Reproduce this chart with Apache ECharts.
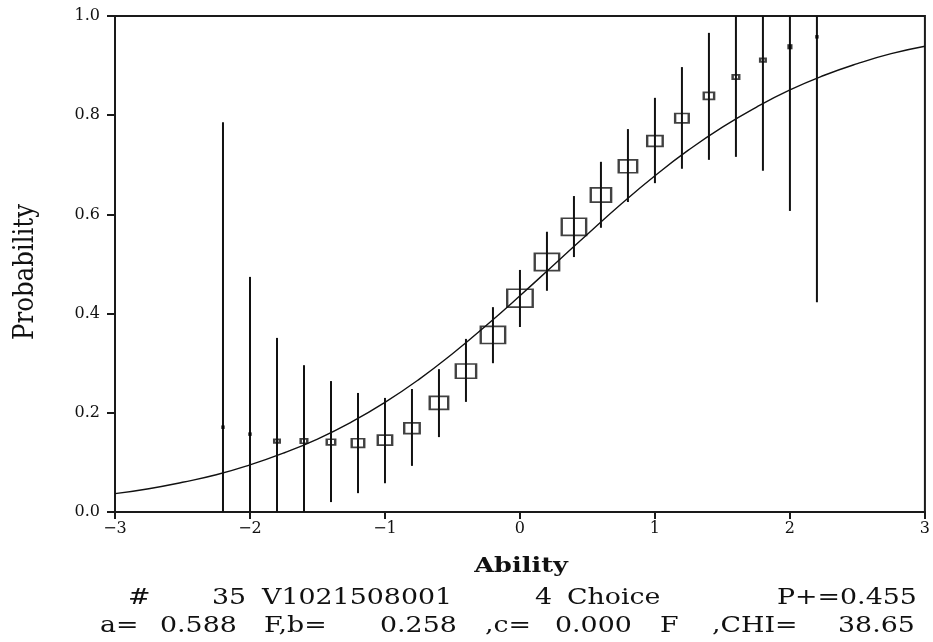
<!DOCTYPE html>
<html><head><meta charset="utf-8">
<script src="https://cdn.jsdelivr.net/npm/echarts@6/dist/echarts.min.js"></script>
<style>html,body{margin:0;padding:0;background:#fff}#c{width:933px;height:642px}</style>
</head><body><div id="c"></div>
<script>
// ---- data ----
const theta = [-2.2,-2.0,-1.8,-1.6,-1.4,-1.2,-1.0,-0.8,-0.6,-0.4,-0.2,0.0,0.2,0.4,0.6,0.8,1.0,1.2,1.4,1.6,1.8,2.0,2.2];
const propCorrect = [0.171,0.157,0.143,0.143,0.141,0.139,0.145,0.169,0.220,0.284,0.357,0.431,0.504,0.575,0.639,0.697,0.748,0.794,0.839,0.877,0.911,0.938,0.958];
const ciLow  = [0,0,0,0,0.020,0.038,0.058,0.093,0.151,0.222,0.300,0.373,0.446,0.514,0.573,0.625,0.663,0.692,0.710,0.716,0.688,0.607,0.423];
const ciHigh = [0.786,0.474,0.351,0.296,0.264,0.240,0.230,0.248,0.288,0.349,0.413,0.488,0.565,0.637,0.706,0.772,0.835,0.897,0.966,1,1,1,1];
const groupWeight = [0.09,0.11,0.26,0.30,0.37,0.52,0.59,0.63,0.74,0.81,0.96,1.00,0.96,0.96,0.81,0.74,0.63,0.56,0.44,0.30,0.26,0.19,0.11];
const curveTheta = [-3,-2.75,-2.5,-2.25,-2,-1.75,-1.5,-1.25,-1,-0.75,-0.5,-0.25,0,0.25,0.5,0.75,1,1.25,1.5,1.75,2,2.25,2.5,2.75,3];
const curveP = [0.037,0.047,0.060,0.075,0.095,0.119,0.147,0.181,0.221,0.267,0.319,0.376,0.436,0.498,0.560,0.621,0.678,0.730,0.776,0.816,0.851,0.880,0.904,0.924,0.939];
const xTicks = [-3,-2,-1,0,1,2,3];
const yTicks = [0,0.2,0.4,0.6,0.8,1.0];
const xTitle = "Ability";
const yTitle = "Probability";
const infoLine1 = ["#", "35", "V1021508001", "4", "Choice", "P+=0.455"];
const infoLine2 = ["a=", "0.588", "F,b=", "0.258", ",c=", "0.000", "F", ",CHI=", "38.65"];

// ---- layout (pixel positions of the words, not data) ----
const line1X = [128, 212, 262, 535, 567, 777];
const line2X = [100, 160, 264, 380, 485, 555, 660, 712, 838];

const chart = echarts.init(document.getElementById('c'), null, {renderer:'canvas'});
const ink = '#111';
const serif = 'DejaVu Serif';

function words(tokens, xs, y) {
  return tokens.map((t, i) => ({
    type: 'text', x: xs[i], y: y, scaleX: 1.22,
    style: { text: t, x: 0, y: 0, align: 'left', verticalAlign: 'middle',
             font: '22px "DejaVu Serif"', fill: ink }
  }));
}

let graphics = [];
graphics.push({
  type: 'text', x: 521, y: 567, scaleX: 1.22,
  style: { text: xTitle, x: 0, y: 0, align: 'center', verticalAlign: 'middle', font: 'bold 21px "DejaVu Serif"', fill: ink }
});
graphics = graphics.concat(words(infoLine1, line1X, 598));
graphics = graphics.concat(words(infoLine2, line2X, 626));
graphics.push({
  type: 'text', x: 26, y: 272, rotation: Math.PI / 2, scaleX: 1.02, scaleY: 1.2,
  style: { text: yTitle, x: 0, y: 0, align: 'center', verticalAlign: 'middle', font: '24px "DejaVu Serif"', fill: ink }
});

const fmtX = v => (v < 0 ? '\u2212' + Math.abs(v) : String(v));

chart.setOption({
  animation: false,
  backgroundColor: '#fff',
  grid: { left: 115, right: 5, top: 16, bottom: 130, show: true, borderColor: '#1a1a1a', borderWidth: 2, backgroundColor: 'transparent' },
  xAxis: {
    type: 'value', min: xTicks[0], max: xTicks[xTicks.length - 1], interval: 1,
    axisLine: { show: true, onZero: false, lineStyle: { color: '#1a1a1a', width: 2 } },
    axisTick: { show: true, inside: false, length: 7, lineStyle: { color: '#1a1a1a', width: 2 } },
    splitLine: { show: false },
    axisLabel: { formatter: fmtX, fontFamily: serif, fontSize: 16, color: ink, margin: 9 }
  },
  yAxis: {
    type: 'value', min: yTicks[0], max: yTicks[yTicks.length - 1], interval: 0.2,
    axisLine: { show: true, onZero: false, lineStyle: { color: '#1a1a1a', width: 2 } },
    axisTick: { show: true, inside: false, length: 8, lineStyle: { color: '#1a1a1a', width: 2 } },
    splitLine: { show: false },
    axisLabel: { formatter: v => v.toFixed(1), fontFamily: serif, fontSize: 16, color: ink, margin: 15 }
  },
  graphic: graphics,
  series: [
    {
      type: 'line', data: curveTheta.map((t, i) => [t, curveP[i]]), smooth: true,
      showSymbol: false, lineStyle: { color: ink, width: 1.4 }, z: 2
    },
    {
      type: 'custom', z: 3,
      data: theta.map((t, i) => [t, ciLow[i], ciHigh[i]]),
      renderItem: function (params, api) {
        const p1 = api.coord([api.value(0), api.value(1)]);
        const p2 = api.coord([api.value(0), api.value(2)]);
        return { type: 'line', shape: { x1: p1[0], y1: p1[1], x2: p2[0], y2: p2[1] },
                 style: { stroke: ink, lineWidth: 2 } };
      }
    },
    {
      type: 'scatter', z: 4, symbol: 'rect',
      data: theta.map((t, i) => {
        const w = 27 * groupWeight[i];
        const filled = groupWeight[i] < 0.2;
        return {
          value: [t, propCorrect[i]],
          symbolSize: filled ? [Math.max(3.5, w), Math.max(3.5, w)] : [w - 1.5, w * 0.72 - 1.5],
          itemStyle: filled ? { color: '#000', borderWidth: 0 } : { color: 'rgba(255,255,255,0)', borderColor: ink, borderWidth: 2 }
        };
      })
    }
  ]
});
</script></body></html>
